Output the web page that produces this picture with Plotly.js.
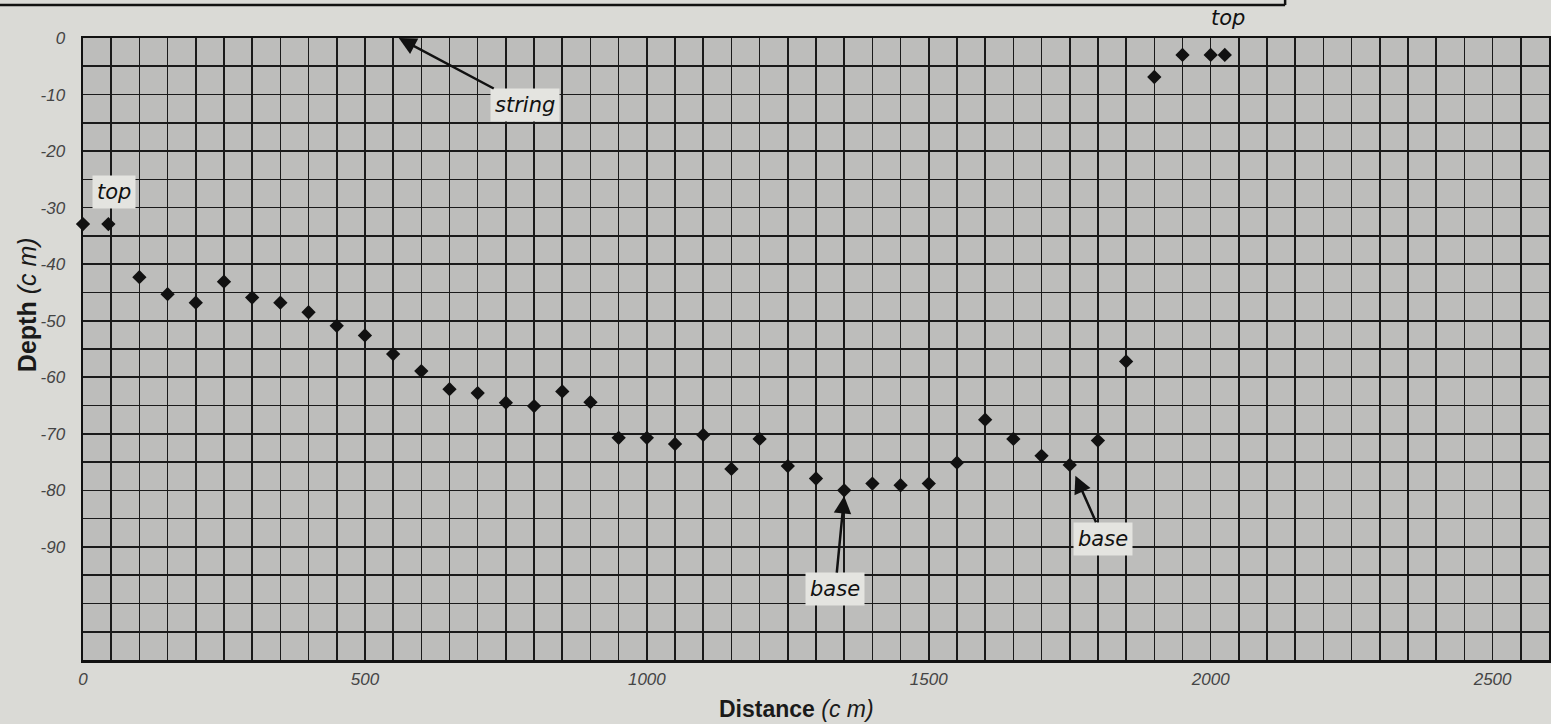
<!DOCTYPE html>
<html>
<head>
<meta charset="utf-8">
<script src="https://cdn.plot.ly/plotly-3.0.1.min.js"></script>
<style>
  html, body { margin: 0; padding: 0; background: #dadad6; }
  #chart { width: 1551px; height: 724px; }
</style>
</head>
<body>
<div id="chart"></div>
<script>
// Distance along the profile (cm)
const distance = [0, 45, 100, 150, 200, 250, 300, 350, 400, 450, 500, 550, 600, 650, 700, 750, 800, 850, 900, 950,
                  1000, 1050, 1100, 1150, 1200, 1250, 1300, 1350, 1400, 1450, 1500, 1550, 1600, 1650, 1700, 1750,
                  1800, 1850, 1900, 1950, 2000, 2025];
// Depth below string (cm)
const depth = [-32.9, -32.9, -42.3, -45.3, -46.8, -43.1, -45.9, -46.8, -48.5, -50.9, -52.6, -55.9, -58.9, -62.1, -62.8,
               -64.5, -65.1, -62.5, -64.4, -70.7, -70.7, -71.8, -70.2, -76.2, -70.9, -75.7, -77.9, -80.0, -78.8,
               -79.1, -78.8, -75.1, -67.5, -70.9, -73.9, -75.5, -71.2, -57.2, -6.9, -3.0, -3.0, -3.0];

// Axis tick labels (grid every 5 cm in depth, every 50 cm in distance)
const yLabelVals = [0, -10, -20, -30, -40, -50, -60, -70, -80, -90];
const yLabelText = ['0', '-10', '-20', '-30', '-40', '-50', '-60', '-70', '-80', '-90'];
const xLabelVals = [0, 500, 1000, 1500, 2000, 2500];
const xLabelText = ['0', '500', '1000', '1500', '2000', '2500'];

function gridTicks(lo, hi, step, labelVals, labelText) {
  const vals = [], text = [];
  for (let v = lo; v <= hi + 1e-9; v += step) {
    vals.push(v);
    const i = labelVals.indexOf(v);
    text.push(i >= 0 ? labelText[i] : '');
  }
  return { vals, text };
}
const xt = gridTicks(0, 2600, 50, xLabelVals, xLabelText);
const yt = gridTicks(-110, 0, 5, yLabelVals, yLabelText);

const tickFont = { family: 'Liberation Sans, Arial, sans-serif', size: 17, color: '#444', style: 'italic' };
const noteFont = { family: 'DejaVu Sans, sans-serif', size: 21, color: '#111', style: 'italic' };
const boxBg = '#e4e4e0';

const trace = {
  x: distance,
  y: depth,
  type: 'scatter',
  mode: 'markers',
  marker: { symbol: 'diamond', size: 11, color: '#111' },
  cliponaxis: false,
  hoverinfo: 'x+y'
};

const axisCommon = {
  tickmode: 'array',
  tickfont: tickFont,
  ticks: '',
  showgrid: true,
  gridcolor: '#1a1a1a',
  gridwidth: 1.6,
  showline: true,
  linecolor: '#111',
  linewidth: 2.5,
  mirror: true,
  zeroline: false,
  fixedrange: true
};

const layout = {
  width: 1551,
  height: 724,
  margin: { l: 83, r: 2, t: 38, b: 64 },
  paper_bgcolor: '#dadad6',
  plot_bgcolor: '#bdbdbb',
  showlegend: false,
  xaxis: Object.assign({}, axisCommon, {
    range: [0, 2600], tickvals: xt.vals, ticktext: xt.text, ticklabelstandoff: 2
  }),
  yaxis: Object.assign({}, axisCommon, {
    range: [-110, 0], tickvals: yt.vals, ticktext: yt.text, ticklabelstandoff: 12
  }),
  shapes: [
    { type: 'line', xref: 'paper', yref: 'paper', x0: -0.06, x1: 0.82, y0: 1.053, y1: 1.053,
      line: { color: '#111', width: 2.5 } },
    { type: 'line', xref: 'paper', yref: 'paper', x0: 0.82, x1: 0.82, y0: 1.053, y1: 1.07,
      line: { color: '#111', width: 2.5 } }
  ],
  annotations: [
    { x: 55, y: -27.3, xref: 'x', yref: 'y', text: 'top', showarrow: false,
      font: noteFont, bgcolor: boxBg, borderpad: 4 },
    { x: 560, y: 0, xref: 'x', yref: 'y', text: 'string', showarrow: true,
      ax: 126, ay: 67, arrowhead: 2, arrowsize: 1.4, arrowwidth: 2.5, arrowcolor: '#111',
      font: noteFont, bgcolor: boxBg, borderpad: 4 },
    { x: 1350, y: -81, xref: 'x', yref: 'y', text: 'base', showarrow: true,
      ax: -9, ay: 93, arrowhead: 2, arrowsize: 1.4, arrowwidth: 2.5, arrowcolor: '#111',
      font: noteFont, bgcolor: boxBg, borderpad: 4 },
    { x: 1760, y: -77.4, xref: 'x', yref: 'y', text: 'base', showarrow: true,
      ax: 28, ay: 63, arrowhead: 2, arrowsize: 1.4, arrowwidth: 2.5, arrowcolor: '#111',
      font: noteFont, bgcolor: boxBg, borderpad: 4 },
    { x: 2030, y: 1.032, xref: 'x', yref: 'paper', xanchor: 'center', yanchor: 'middle',
      text: 'top', showarrow: false, font: noteFont },
    { x: -0.038, y: 0.571, xref: 'paper', yref: 'paper', xanchor: 'center', yanchor: 'middle',
      textangle: -90, showarrow: false,
      text: '<b>Depth</b> <i>(c m)</i>',
      font: { family: 'Liberation Sans, Arial, sans-serif', size: 25, color: '#1a1a1a' } },
    { x: 0.487, y: -0.078, xref: 'paper', yref: 'paper', xanchor: 'center', yanchor: 'middle',
      showarrow: false, borderpad: 0,
      text: '<b>Distance</b> <i>(c m)</i>',
      font: { family: 'Liberation Sans, Arial, sans-serif', size: 23, color: '#1a1a1a' } }
  ]
};

Plotly.newPlot('chart', [trace], layout, { displayModeBar: false, staticPlot: true });
</script>
</body>
</html>
